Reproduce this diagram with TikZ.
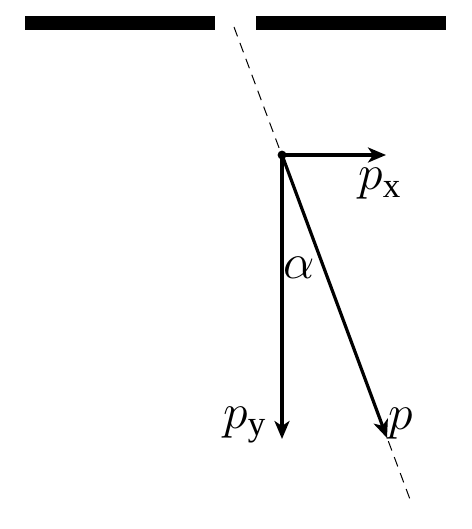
\documentclass[tikz,border=0pt]{standalone}
\usepackage{fontspec}
\setmainfont{Liberation Serif}
\usetikzlibrary{arrows.meta}
\begin{document}
\begin{tikzpicture}[x=0.5pt,y=-0.5pt,
  bar/.style={line width=7pt},
  vec/.style={line width=1.6pt,-{Stealth[length=9pt,width=7.5pt,inset=2.5pt]}},
  ray/.style={line width=0.5pt,dash pattern=on 5pt off 3.5pt},
  lbl/.style={font=\fontsize{25}{25}\selectfont,inner sep=0pt}]
\useasboundingbox (0,0) rectangle (471,529);
\draw[bar] (25,23.5) -- (215,23.5);
\draw[bar] (256,23.5) -- (446,23.5);
\coordinate (o) at (282,155);
\coordinate (rs) at (234,27);
\coordinate (re) at (411,502);
\draw[ray] (rs) -- (re);
\coordinate (px) at (386,155);
\coordinate (py) at (282,439);
\coordinate (p) at (387,438);
\draw[vec] (o) -- (px);
\draw[vec] (o) -- (py);
\draw[vec] (o) -- (p);
\fill (o) circle (2.2pt);
\node[lbl] (lpx) at (380,184) {$p_{\mathrm{x}}$};
\node[lbl] (lpy) at (245,425) {$p_{\mathrm{y}}$};
\node[lbl] (lp) at (401,424) {$p$};
\node[lbl] (la) at (299,268) {$\alpha$};
\end{tikzpicture}
\end{document}
